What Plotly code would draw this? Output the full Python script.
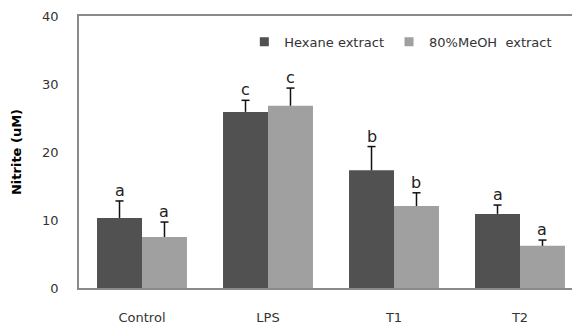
import plotly.graph_objects as go

categories = ["Control", "LPS", "T1", "T2"]
hexane = [10.3, 25.9, 17.3, 10.9]
hexane_err = [2.5, 1.7, 3.5, 1.3]
meoh = [7.5, 26.8, 12.05, 6.2]
meoh_err = [2.2, 2.6, 1.95, 0.85]
hexane_letters = ["a", "c", "b", "a"]
meoh_letters = ["a", "c", "b", "a"]
y_ticks = [0, 10, 20, 30, 40]

FONT = "DejaVu Sans"
HEX_COLOR = "#515151"
MEOH_COLOR = "#a0a0a0"
BARGAP = 0.286
BAR_OFF = (1 - BARGAP) / 4   # centre offset of each bar in a group (category units)
CAP = 0.032                  # half width of error cap (category units)
PAGE_PAD = 8                 # default body margin of the html page

fig = go.Figure()
fig.add_trace(go.Bar(
    name="Hexane extract", x=categories, y=hexane, showlegend=False,
    marker=dict(color=HEX_COLOR, line=dict(width=0)),
    error_y=dict(type="data", array=hexane_err, arrayminus=[0]*4, symmetric=False,
                 color="#111111", thickness=1.5, width=0),
))
fig.add_trace(go.Bar(
    name="80%MeOH  extract", x=categories, y=meoh, showlegend=False,
    marker=dict(color=MEOH_COLOR, line=dict(width=0)),
    error_y=dict(type="data", array=meoh_err, arrayminus=[0]*4, symmetric=False,
                 color="#111111", thickness=1.5, width=0),
))
# legend entries with small square symbols
for name, col in [("Hexane extract", HEX_COLOR), ("80%MeOH  extract", MEOH_COLOR)]:
    fig.add_trace(go.Scatter(x=[None], y=[None], mode="markers", name=name,
                             marker=dict(symbol="square", size=9, color=col)))

annotations = []
shapes = []
for i, c in enumerate(categories):
    for vals, errs, letters, sign in [(hexane, hexane_err, hexane_letters, -1),
                                      (meoh, meoh_err, meoh_letters, 1)]:
        top = vals[i] + errs[i]
        xc = i + sign * BAR_OFF
        annotations.append(dict(x=xc, y=top, text=letters[i],
                                xref="x", yref="y", showarrow=False, yanchor="bottom",
                                yshift=-1, font=dict(family=FONT, size=16, color="#222")))
        shapes.append(dict(type="line", xref="x", yref="y", x0=xc - CAP, x1=xc + CAP,
                           y0=top, y1=top, line=dict(color="#111111", width=1.5)))

fig.update_layout(
    width=580 - PAGE_PAD, height=327 - PAGE_PAD,
    margin=dict(l=79 - PAGE_PAD, r=0, t=16 - PAGE_PAD, b=39, pad=0),
    paper_bgcolor="white", plot_bgcolor="white",
    barmode="group", bargap=BARGAP, bargroupgap=0,
    font=dict(family=FONT, size=13, color="#333"),
    showlegend=True,
    legend=dict(orientation="h", x=0.33, y=0.905, xanchor="left", yanchor="middle",
                font=dict(family=FONT, size=13, color="#333"),
                bgcolor="rgba(0,0,0,0)", itemwidth=30, tracegroupgap=0),
    annotations=annotations,
    shapes=shapes,
    xaxis=dict(range=[-0.5, 3.5 - 3/126], showline=True, linecolor="#8a8a8a", linewidth=1.5,
               mirror=True, ticks="", ticklabelstandoff=17, showgrid=False, automargin=False,
               tickfont=dict(family=FONT, size=13, color="#333")),
    yaxis=dict(range=[0, 40], tickvals=y_ticks, showline=True, linecolor="#8a8a8a", linewidth=1.5,
               ticks="", ticklabelstandoff=16, showgrid=False, zeroline=False, automargin=False,
               tickfont=dict(family=FONT, size=13, color="#333"),
               title=dict(text="<b>Nitrite (uM)</b>", font=dict(family=FONT, size=13, color="#000"),
                          standoff=18)),
)

fig.write_html("out.html")
